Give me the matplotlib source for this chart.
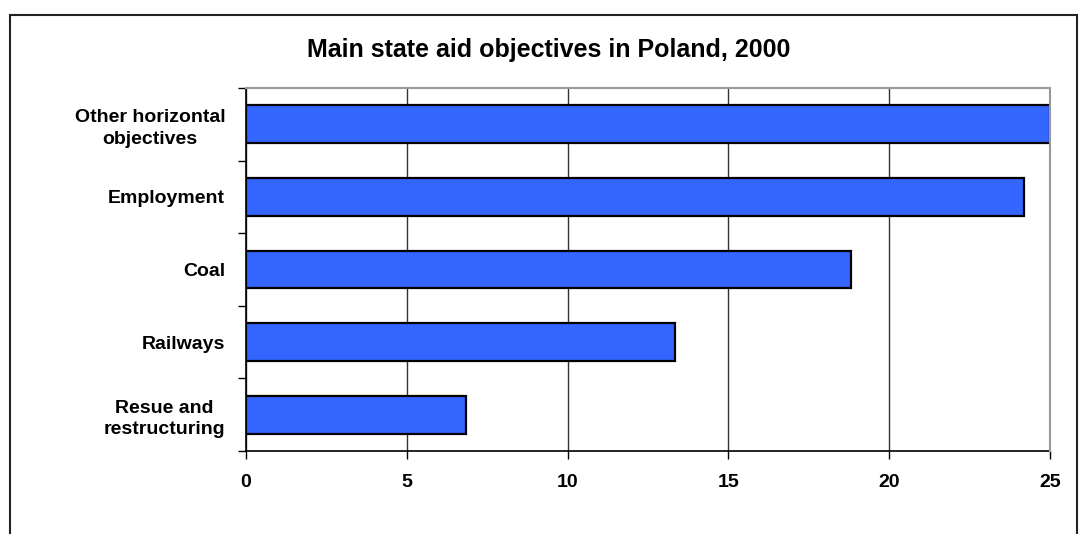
import matplotlib.pyplot as plt
import matplotlib.patches as patches
from matplotlib.ticker import FixedLocator

plt.rcParams['font.family'] = ['Liberation Sans', 'DejaVu Sans']
plt.rcParams['font.weight'] = 'bold'

# state aid by objective, Poland 2000
categories = ['Other horizontal\nobjectives', 'Employment', 'Coal', 'Railways',
              'Resue and\nrestructuring']
values = [25.0, 24.2, 18.8, 13.35, 6.85]
xticks = [0, 5, 10, 15, 20, 25]

fig = plt.figure(figsize=(10.8, 5.34), dpi=100)
ax = fig.add_axes([0.2278, 0.1554, 0.7444, 0.6798])

pos = list(range(len(categories)))
ax.barh(pos, values, height=0.52, color='#3366FF', edgecolor='black',
        linewidth=1.6, zorder=3)

ax.set_xlim(0, 25)
ax.set_ylim(len(categories) - 0.5, -0.5)

ax.set_xticks(xticks)
ax.set_xticklabels([str(t) for t in xticks], fontsize=14, fontweight='bold')
ax.tick_params(axis='x', direction='out', length=5.5, width=1, pad=11)

ax.set_yticks(pos)
ax.set_yticklabels(categories, fontsize=14, fontweight='bold',
                   multialignment='center', linespacing=1.35)
ax.tick_params(axis='y', which='major', length=0, pad=15)
ax.yaxis.set_minor_locator(FixedLocator([p - 0.5 for p in pos] + [len(pos) - 0.5]))
ax.tick_params(axis='y', which='minor', direction='out', length=6, width=1)

ax.grid(axis='x', color='#333333', linewidth=1, zorder=1)
for s in ['top', 'right']:
    ax.spines[s].set_color('#999999')
    ax.spines[s].set_linewidth(1.5)
for s in ['left', 'bottom']:
    ax.spines[s].set_color('black')
    ax.spines[s].set_linewidth(1.2)
ax.spines['right'].set_zorder(4)

fig.text(0.508, 1 - 57 / 534, 'Main state aid objectives in Poland, 2000',
         ha='center', va='baseline', fontsize=18, fontweight='bold')

# outer chart frame
frame = patches.Rectangle((9.5 / 1080, -0.05), (1077 - 9.5) / 1080,
                          1.05 - 15 / 534, transform=fig.transFigure,
                          fill=False, edgecolor='#222222', linewidth=1.5)
fig.patches.append(frame)

fig.savefig('out.png', dpi=100)
